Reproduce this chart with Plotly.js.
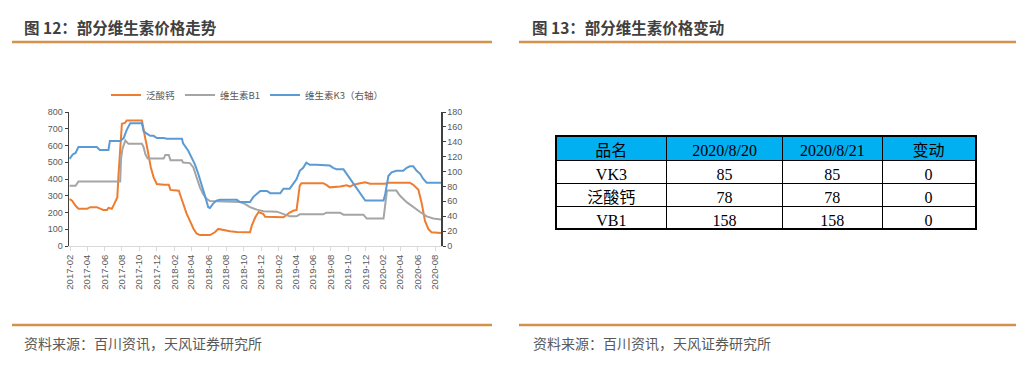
<!DOCTYPE html>
<html>
<head>
<meta charset="utf-8">
<script src="https://cdn.plot.ly/plotly-3.0.1.min.js"></script>
<style>
html,body{margin:0;padding:0;background:#fff;}
#chart{width:1030px;height:368px;}
</style>
</head>
<body>
<div id="chart"></div>
<script>
// ---- Series 1: 泛酸钙 (left axis) ----
const caDates = ['2017-01-30','2017-02-08','2017-02-20','2017-03-02','2017-04-01','2017-04-12','2017-05-05','2017-05-16','2017-05-28','2017-06-10','2017-06-15','2017-06-27','2017-07-02','2017-07-10','2017-07-16','2017-07-20','2017-07-26','2017-08-01','2017-08-12','2017-08-18','2017-10-10','2017-10-16','2017-10-22','2017-10-27','2017-11-04','2017-11-10','2017-11-20','2017-12-01','2017-12-25','2018-01-12','2018-01-18','2018-02-16','2018-02-22','2018-03-03','2018-03-15','2018-03-27','2018-04-08','2018-04-19','2018-05-01','2018-06-05','2018-06-11','2018-06-22','2018-07-04','2018-07-21','2018-08-14','2018-09-07','2018-10-23','2018-10-29','2018-11-10','2018-11-22','2018-12-09','2018-12-15','2019-01-25','2019-02-17','2019-03-11','2019-03-23','2019-04-04','2019-04-09','2019-04-15','2019-04-21','2019-07-06','2019-07-17','2019-07-29','2019-09-03','2019-09-26','2019-10-08','2019-10-19','2019-11-12','2019-11-30','2019-12-17','2020-02-08','2020-02-19','2020-05-04','2020-05-16','2020-06-03','2020-06-14','2020-06-26','2020-07-08','2020-07-19','2020-08-21'];
const caValues = [280,270,240,222,222,232,232,222,215,215,228,222,240,265,290,420,560,730,735,750,750,680,640,600,530,470,410,370,365,365,335,330,300,250,195,150,105,75,65,65,70,82,102,95,88,84,82,120,170,203,190,175,175,172,200,210,215,300,360,375,375,365,350,355,362,355,365,375,380,372,372,378,378,365,335,260,150,100,82,78];

// ---- Series 2: 维生素B1 (left axis) ----
const b1Dates = ['2017-01-30','2017-02-20','2017-03-02','2017-07-26','2017-07-29','2017-08-03','2017-08-13','2017-08-24','2017-10-10','2017-10-16','2017-10-22','2017-10-30','2017-12-25','2017-12-31','2018-01-12','2018-01-18','2018-02-27','2018-03-03','2018-03-27','2018-04-08','2018-04-19','2018-05-01','2018-05-12','2018-05-24','2018-06-05','2018-09-18','2018-10-05','2018-10-23','2018-11-16','2018-12-09','2019-01-25','2019-02-17','2019-03-11','2019-04-04','2019-04-15','2019-07-06','2019-07-17','2019-09-03','2019-09-15','2019-11-24','2019-12-05','2020-02-02','2020-02-08','2020-02-14','2020-03-18','2020-03-30','2020-04-23','2020-05-16','2020-06-09','2020-07-02','2020-07-25','2020-08-21'];
const b1Values = [360,360,385,385,520,580,630,610,610,590,548,522,522,544,544,512,512,498,495,469,410,350,311,282,268,262,252,232,217,207,205,193,177,177,189,189,199,199,187,187,164,164,250,331,331,301,262,232,203,177,164,158];

// ---- Series 3: 维生素K3 (right axis) ----
const k3Dates = ['2017-01-30','2017-02-10','2017-02-20','2017-03-02','2017-05-05','2017-05-16','2017-06-15','2017-06-20','2017-07-26','2017-08-07','2017-08-18','2017-08-30','2017-10-10','2017-10-16','2017-10-27','2017-11-08','2017-11-20','2017-12-01','2017-12-25','2018-01-05','2018-02-27','2018-03-03','2018-03-21','2018-04-02','2018-04-13','2018-04-25','2018-05-07','2018-05-18','2018-05-30','2018-06-05','2018-06-16','2018-06-28','2018-07-10','2018-09-07','2018-09-18','2018-10-23','2018-11-04','2018-11-16','2018-11-28','2018-12-21','2019-01-02','2019-02-06','2019-02-17','2019-03-11','2019-03-23','2019-04-04','2019-04-15','2019-04-27','2019-05-08','2019-05-20','2019-06-13','2019-07-06','2019-07-29','2019-08-10','2019-08-22','2019-09-15','2019-09-26','2019-10-08','2019-10-19','2019-10-31','2019-11-12','2019-11-30','2020-02-02','2020-02-08','2020-02-19','2020-03-01','2020-03-18','2020-04-11','2020-04-23','2020-05-04','2020-05-16','2020-05-28','2020-06-09','2020-06-20','2020-07-02','2020-08-21'];
const k3Values = [117,123,125,133,133,129,129,141,141,145,156,165,165,154,151,148,148,145,145,144,144,138,128,119,110,97,83,68,52,51,57,61,62,62,59,59,66,70,74,74,71,71,77,77,83,90,101,105,112,109,109,108,108,105,103,103,97,90,83,77,70,61,61,70,94,99,101,101,105,107,107,101,97,90,85,85];

// ---- Legend names ----
const seriesNames = ['泛酸钙','维生素B1','维生素K3（右轴）'];

// ---- Table data ----
const tableHeader = ['品名','2020/8/20','2020/8/21','变动'];
const tableNames = ['VK3','泛酸钙','VB1'];
const tablePrev = [85,78,158];
const tableCurr = [85,78,158];
const tableChange = [0,0,0];

// ---- Texts ----
const titleLeft = '图 12：部分维生素价格走势';
const titleRight = '图 13：部分维生素价格变动';
const sourceText = '资料来源：百川资讯，天风证券研究所';

const W = 1030, H = 368;
const px = x => x / W;
const py = y => 1 - y / H;

const lineFont = '"Liberation Sans", "Noto Sans CJK SC", sans-serif';
const cjk = '"Noto Sans CJK SC", sans-serif';
const serif = '"Liberation Serif", "Noto Sans CJK SC", serif';

const traces = [
  {x: caDates, y: caValues, name: seriesNames[0], type: 'scatter', mode: 'lines',
   line: {color: '#ED7D31', width: 2}, xaxis: 'x', yaxis: 'y', hoverinfo: 'skip'},
  {x: b1Dates, y: b1Values, name: seriesNames[1], type: 'scatter', mode: 'lines',
   line: {color: '#A5A5A5', width: 2}, xaxis: 'x', yaxis: 'y', hoverinfo: 'skip'},
  {x: k3Dates, y: k3Values, name: seriesNames[2], type: 'scatter', mode: 'lines',
   line: {color: '#5B9BD5', width: 2}, xaxis: 'x', yaxis: 'y2', hoverinfo: 'skip'},
  {type: 'table',
   domain: {x: [px(556), px(976)], y: [py(230), py(136)]},
   columnwidth: [111, 116, 100, 93],
   header: {values: tableHeader.map(v => [v]), align: 'center', height: 24,
            fill: {color: '#00B0F0'}, line: {color: '#000', width: 1},
            font: {family: serif, size: 16, color: '#000'}},
   cells: {values: [tableNames, tablePrev, tableCurr, tableChange], align: 'center', height: 23,
           fill: {color: '#fff'}, line: {color: '#000', width: 1},
           font: {family: serif, size: 16, color: '#000'}}
  }
];

const layout = {
  width: W, height: H,
  margin: {l: 0, r: 0, t: 0, b: 0},
  paper_bgcolor: '#fff', plot_bgcolor: '#fff',
  showlegend: true,
  legend: {orientation: 'h', x: px(106), xanchor: 'left', y: py(95), yanchor: 'middle',
           font: {family: cjk, size: 9.5, color: '#595959'}, itemwidth: 30,
           bgcolor: 'rgba(0,0,0,0)', traceorder: 'normal'},
  xaxis: {domain: [px(69), px(441)], type: 'date',
          range: ['2017-01-28', '2020-08-21'],
          tickformat: '%Y-%m', dtick: 'M2', tick0: '2017-02-01', tickangle: -90,
          showgrid: false, zeroline: false, showline: true, linecolor: '#D9D9D9', linewidth: 1,
          ticks: 'outside', ticklen: 4, tickcolor: '#D9D9D9',
          tickfont: {family: lineFont, size: 9.5, color: '#595959'}, anchor: 'y'},
  yaxis: {domain: [py(246), py(112)], range: [0, 800], dtick: 100,
          showgrid: false, zeroline: false, showline: true, linecolor: '#404040', linewidth: 1.5,
          ticks: 'outside', ticklen: 3, tickcolor: '#404040',
          tickfont: {family: lineFont, size: 9, color: '#595959'}, anchor: 'x'},
  yaxis2: {domain: [py(246), py(112)], range: [0, 180], dtick: 20, overlaying: 'y', side: 'right',
           showgrid: false, zeroline: false, showline: true, linecolor: '#404040', linewidth: 1.5,
           ticks: 'outside', ticklen: 3, tickcolor: '#404040',
           tickfont: {family: lineFont, size: 9, color: '#595959'}, anchor: 'x'},
  shapes: [
    {type: 'line', xref: 'paper', yref: 'paper', x0: px(12), x1: px(492), y0: py(42), y1: py(42),
     line: {color: '#D4914E', width: 2.5}},
    {type: 'line', xref: 'paper', yref: 'paper', x0: px(519), x1: px(1016), y0: py(42), y1: py(42),
     line: {color: '#D4914E', width: 2.5}},
    {type: 'line', xref: 'paper', yref: 'paper', x0: px(12), x1: px(492), y0: py(325), y1: py(325),
     line: {color: '#D4914E', width: 2.5}},
    {type: 'line', xref: 'paper', yref: 'paper', x0: px(519), x1: px(1016), y0: py(325), y1: py(325),
     line: {color: '#D4914E', width: 2.5}},
    {type: 'rect', xref: 'paper', yref: 'paper', x0: px(556), x1: px(976), y0: py(229), y1: py(136),
     line: {color: '#000', width: 2}, fillcolor: 'rgba(0,0,0,0)'}
  ],
  annotations: [
    {text: '<b>' + titleLeft + '</b>', xref: 'paper', yref: 'paper', x: px(22), y: py(27),
     xanchor: 'left', yanchor: 'middle', showarrow: false,
     font: {family: cjk, size: 15.5, color: '#404040'}},
    {text: '<b>' + titleRight + '</b>', xref: 'paper', yref: 'paper', x: px(530), y: py(27),
     xanchor: 'left', yanchor: 'middle', showarrow: false,
     font: {family: cjk, size: 15.5, color: '#404040'}},
    {text: sourceText, xref: 'paper', yref: 'paper', x: px(22), y: py(343),
     xanchor: 'left', yanchor: 'middle', showarrow: false,
     font: {family: cjk, size: 14, color: '#595959'}},
    {text: sourceText, xref: 'paper', yref: 'paper', x: px(531), y: py(343),
     xanchor: 'left', yanchor: 'middle', showarrow: false,
     font: {family: cjk, size: 14, color: '#595959'}}
  ]
};

Plotly.newPlot('chart', traces, layout, {staticPlot: true, displayModeBar: false});
</script>
</body>
</html>
